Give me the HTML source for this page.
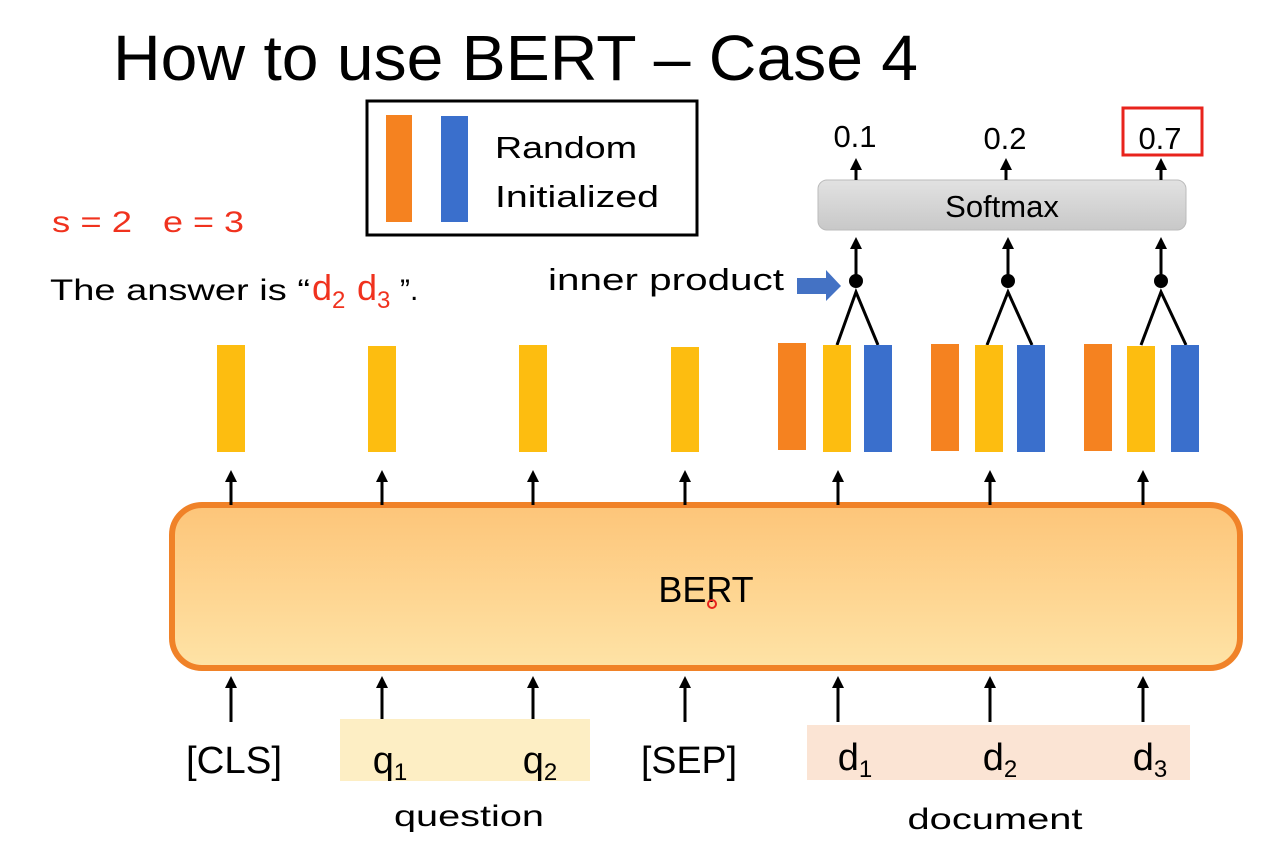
<!DOCTYPE html>
<html><head><meta charset="utf-8"><style>
html,body{margin:0;padding:0;background:#fff;}
svg{display:block;font-family:"Liberation Sans",sans-serif;}
</style></head><body>
<svg width="1287" height="858" viewBox="0 0 1287 858" xmlns="http://www.w3.org/2000/svg">
<defs>
<marker id="ah" markerWidth="12" markerHeight="12" refX="4" refY="6" orient="auto" markerUnits="userSpaceOnUse" viewBox="0 0 12 12"><path d="M0,0 L12,6 L0,12 z" fill="#000"/></marker>
<linearGradient id="bg" x1="0" y1="0" x2="0" y2="1"><stop offset="0" stop-color="#fdc579"/><stop offset="1" stop-color="#fee3a6"/></linearGradient>
<linearGradient id="sg" x1="0" y1="0" x2="0" y2="1"><stop offset="0" stop-color="#e2e2e2"/><stop offset="1" stop-color="#c8c8c8"/></linearGradient>
</defs>
<rect width="1287" height="858" fill="#fff"/>
<text x="113" y="80" font-size="64" textLength="805" lengthAdjust="spacingAndGlyphs">How to use BERT – Case 4</text>

<!-- legend -->
<rect x="367" y="101" width="330" height="134" fill="none" stroke="#000" stroke-width="3"/>
<rect x="386" y="115" width="26" height="107" fill="#f58220"/>
<rect x="441" y="116" width="27" height="106" fill="#3a6fcc"/>
<text x="495" y="158" font-size="31" textLength="142" lengthAdjust="spacingAndGlyphs">Random</text>
<text x="495" y="207" font-size="31" textLength="164" lengthAdjust="spacingAndGlyphs">Initialized</text>

<text x="52" y="232" font-size="30" fill="#f0321e" textLength="80" lengthAdjust="spacingAndGlyphs">s = 2</text>
<text x="163" y="232" font-size="30" fill="#f0321e" textLength="81" lengthAdjust="spacingAndGlyphs">e = 3</text>
<text x="50" y="300" font-size="30" textLength="260" lengthAdjust="spacingAndGlyphs">The answer is “</text>
<text x="312" y="300" font-size="36" fill="#f0321e">d<tspan font-size="24" dy="8">2</tspan></text>
<text x="357" y="300" font-size="36" fill="#f0321e">d<tspan font-size="24" dy="8">3</tspan></text>
<text x="400" y="300" font-size="30">”.</text>

<!-- softmax -->
<rect x="818" y="180" width="368" height="50" rx="9" fill="url(#sg)" stroke="#bbb"/>
<text x="1002" y="217" font-size="31" text-anchor="middle">Softmax</text>
<text x="855" y="147" font-size="31" text-anchor="middle">0.1</text>
<text x="1005" y="149" font-size="31" text-anchor="middle">0.2</text>
<text x="1160" y="149" font-size="31" text-anchor="middle">0.7</text>
<rect x="1123" y="108" width="79" height="47" fill="none" stroke="#e8231c" stroke-width="3"/>
<g stroke="#000" stroke-width="3" fill="none">
<line x1="856" y1="180" x2="856" y2="166" marker-end="url(#ah)"/>
<line x1="1006" y1="180" x2="1006" y2="166" marker-end="url(#ah)"/>
<line x1="1161" y1="180" x2="1161" y2="166" marker-end="url(#ah)"/>
<line x1="856" y1="280" x2="856" y2="245" marker-end="url(#ah)"/>
<line x1="1008" y1="280" x2="1008" y2="245" marker-end="url(#ah)"/>
<line x1="1161" y1="280" x2="1161" y2="245" marker-end="url(#ah)"/>
<polyline points="837,345 856,292 878,345"/>
<polyline points="987,345 1008,292 1032,345"/>
<polyline points="1141,345 1161,292 1186,345"/>
</g>
<circle cx="856" cy="281" r="7"/><circle cx="1008" cy="281" r="7"/><circle cx="1161" cy="281" r="7"/>
<text x="548" y="290" font-size="31" textLength="236" lengthAdjust="spacingAndGlyphs">inner product</text>
<path d="M797,278 L826,278 L826,270 L841,286 L826,301 L826,294 L797,294 z" fill="#4472c4"/>

<!-- bars -->
<g fill="#fdbd10">
<rect x="217" y="345" width="28" height="107"/>
<rect x="368" y="346" width="28" height="106"/>
<rect x="519" y="345" width="28" height="107"/>
<rect x="671" y="347" width="28" height="105"/>
<rect x="823" y="345" width="28" height="107"/>
<rect x="975" y="345" width="28" height="107"/>
<rect x="1127" y="346" width="28" height="106"/>
</g>
<g fill="#f58220">
<rect x="778" y="343" width="28" height="107"/>
<rect x="931" y="344" width="28" height="107"/>
<rect x="1084" y="344" width="28" height="107"/>
</g>
<g fill="#3a6fcc">
<rect x="864" y="345" width="28" height="107"/>
<rect x="1017" y="345" width="28" height="107"/>
<rect x="1171" y="345" width="28" height="107"/>
</g>

<!-- BERT -->
<rect x="172" y="505" width="1068" height="163" rx="30" fill="url(#bg)" stroke="#f08228" stroke-width="6"/>
<text x="706" y="602" font-size="36" text-anchor="middle">BERT</text>
<circle cx="712" cy="604" r="4" fill="none" stroke="#e8231c" stroke-width="2"/>

<g stroke="#000" stroke-width="3">
<line x1="231" y1="505" x2="231" y2="478" marker-end="url(#ah)"/>
<line x1="382" y1="505" x2="382" y2="478" marker-end="url(#ah)"/>
<line x1="533" y1="505" x2="533" y2="478" marker-end="url(#ah)"/>
<line x1="685" y1="505" x2="685" y2="478" marker-end="url(#ah)"/>
<line x1="838" y1="505" x2="838" y2="478" marker-end="url(#ah)"/>
<line x1="990" y1="505" x2="990" y2="478" marker-end="url(#ah)"/>
<line x1="1143" y1="505" x2="1143" y2="478" marker-end="url(#ah)"/>
<line x1="231" y1="722" x2="231" y2="684" marker-end="url(#ah)"/>
<line x1="382" y1="722" x2="382" y2="684" marker-end="url(#ah)"/>
<line x1="533" y1="722" x2="533" y2="684" marker-end="url(#ah)"/>
<line x1="685" y1="722" x2="685" y2="684" marker-end="url(#ah)"/>
<line x1="838" y1="722" x2="838" y2="684" marker-end="url(#ah)"/>
<line x1="990" y1="722" x2="990" y2="684" marker-end="url(#ah)"/>
<line x1="1143" y1="722" x2="1143" y2="684" marker-end="url(#ah)"/>
</g>

<rect x="340" y="719" width="250" height="62" fill="#fdeec4"/>
<rect x="807" y="725" width="383" height="55" fill="#fbe4d4"/>
<g font-size="38" text-anchor="middle">
<text x="234" y="773" textLength="96" lengthAdjust="spacingAndGlyphs">[CLS]</text>
<text x="390" y="773">q<tspan font-size="24" dy="7">1</tspan></text>
<text x="540" y="773">q<tspan font-size="24" dy="7">2</tspan></text>
<text x="689" y="773" textLength="96" lengthAdjust="spacingAndGlyphs">[SEP]</text>
<text x="855" y="770">d<tspan font-size="24" dy="7">1</tspan></text>
<text x="1000" y="770">d<tspan font-size="24" dy="7">2</tspan></text>
<text x="1150" y="770">d<tspan font-size="24" dy="7">3</tspan></text>
</g>
<text x="469" y="826" font-size="30" text-anchor="middle" textLength="150" lengthAdjust="spacingAndGlyphs">question</text>
<text x="995" y="829" font-size="30" text-anchor="middle" textLength="175" lengthAdjust="spacingAndGlyphs">document</text>
</svg>
</body></html>
